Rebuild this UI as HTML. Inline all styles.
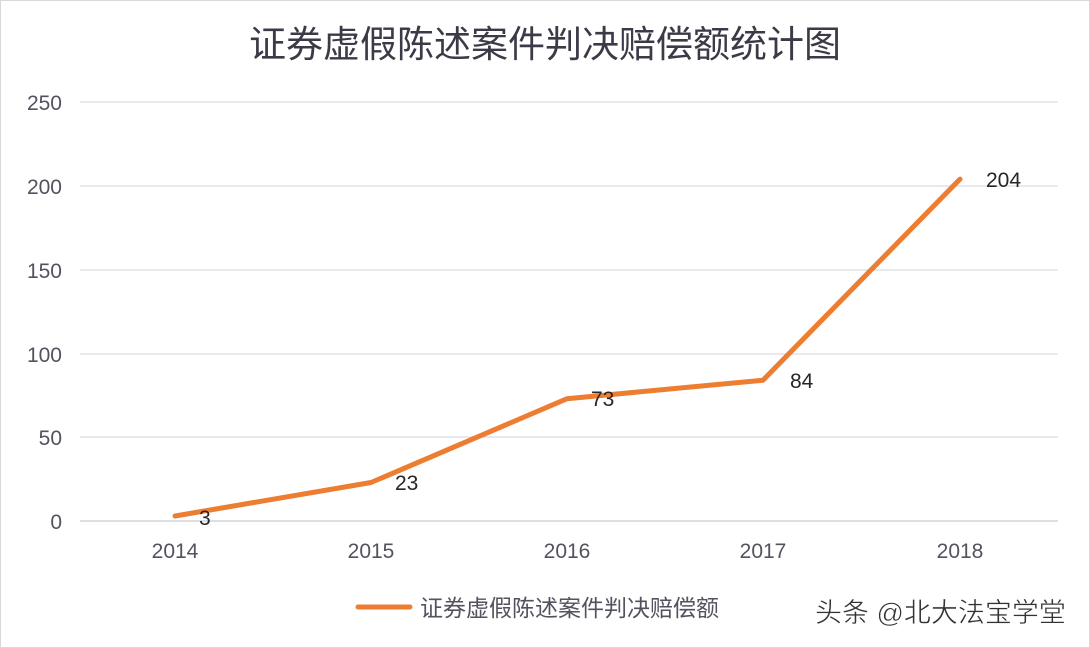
<!DOCTYPE html>
<html><head><meta charset="utf-8"><style>
html,body{margin:0;padding:0;background:#fff;}
svg{display:block;}
</style></head><body>
<svg width="1090" height="648" viewBox="0 0 1090 648" xmlns="http://www.w3.org/2000/svg" font-family="Liberation Sans, Noto Sans CJK SC, sans-serif">
<rect x="0.5" y="0.5" width="1089" height="647" fill="#fff" stroke="#d9d9d9"/>
<text x="545" y="57" text-anchor="middle" font-size="37" fill="#3d3a48">证券虚假陈述案件判决赔偿额统计图</text>
<g stroke="#d9d9e3" stroke-width="1.2">
<line x1="80" y1="102" x2="1058" y2="102"/>
<line x1="80" y1="186" x2="1058" y2="186"/>
<line x1="80" y1="270" x2="1058" y2="270"/>
<line x1="80" y1="354" x2="1058" y2="354"/>
<line x1="80" y1="437" x2="1058" y2="437"/>
<line x1="80" y1="521" x2="1058" y2="521" stroke="#c8cdd8"/>
</g>
<g font-size="21" fill="#55525f" text-anchor="end">
<text x="62" y="110">250</text>
<text x="62" y="194">200</text>
<text x="62" y="278">150</text>
<text x="62" y="362">100</text>
<text x="62" y="445">50</text>
<text x="62" y="529">0</text>
</g>
<g font-size="21" fill="#55525f" text-anchor="middle">
<text x="175" y="558">2014</text>
<text x="371" y="558">2015</text>
<text x="567" y="558">2016</text>
<text x="763" y="558">2017</text>
<text x="960" y="558">2018</text>
</g>
<polyline points="175,516 371,482.5 567,398.7 763,380.2 960,179.1" fill="none" stroke="#ed7d31" stroke-width="5" stroke-linejoin="round" stroke-linecap="round"/>
<g font-size="21" fill="#262626">
<text x="199" y="525">3</text>
<text x="395" y="490">23</text>
<text x="591" y="406">73</text>
<text x="790" y="388">84</text>
<text x="986" y="187">204</text>
</g>
<line x1="358" y1="607" x2="410" y2="607" stroke="#ed7d31" stroke-width="5" stroke-linecap="round"/>
<text x="420" y="616" font-size="23" fill="#55525f">证券虚假陈述案件判决赔偿额</text>
<text x="815" y="622" font-size="27" fill="#333" stroke="#fff" stroke-width="0.5">头条 @北大法宝学堂</text>
</svg>
</body></html>
